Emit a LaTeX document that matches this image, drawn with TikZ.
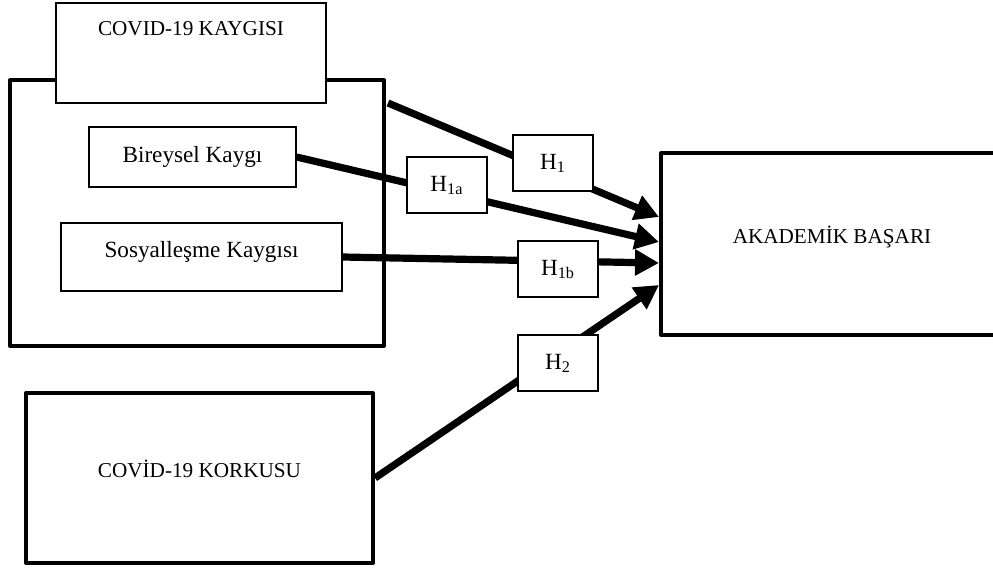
\documentclass[tikz,border=0pt]{standalone}
\usepackage{fontspec}
\setmainfont{Liberation Serif}
\usetikzlibrary{arrows.meta}
\begin{document}
\begin{tikzpicture}[x=.5pt, y=-.5pt,
    kalin/.style={draw, line width=2pt, line join=round, fill=white, inner sep=0pt},
    ince/.style={draw, line width=.6pt, fill=white, inner sep=0pt},
    buyuk/.style={font=\fontsize{10.6}{12}\selectfont},
    kucuk/.style={font=\fontsize{11.6}{13}\selectfont},
    hip/.style={ince, kucuk, minimum width=40pt, minimum height=28pt, text height=8pt, text depth=2pt},
    ok/.style={line width=3.6pt, -{Triangle[length=12pt, width=12.5pt]}}]
\useasboundingbox (0,0) rectangle (993,569);

\node (cerceve) at (197,213)[kalin, minimum width=187pt, minimum height=133pt]{};
\node (baslik) at (191,53)[ince, buyuk, minimum width=135pt, minimum height=50pt, text height=7pt, text depth=25pt]{COVID-19 KAYGISI};
\node (bireysel) at (192.5,157)[ince, kucuk, minimum width=103.5pt, minimum height=30pt]{Bireysel Kaygı};
\node (sosyal) at (201.5,257)[ince, kucuk, minimum width=140.5pt, minimum height=34pt, text height=7pt, text depth=7pt]{Sosyalleşme Kaygısı};
\node (korku) at (199.5,478)[kalin, buyuk, minimum width=173.5pt, minimum height=85pt, text height=5pt, text depth=6pt]{COVİD-19 KORKUSU};
\node (akademik) at (832,244)[kalin, buyuk, minimum width=171pt, minimum height=91pt, text height=5pt, text depth=6pt]{AKADEMİK BAŞARI};

\coordinate (h1bas) at (388,103);
\coordinate (u1) at (659,217);
\coordinate (u1a) at (659,242);
\coordinate (u1b) at (659,263);
\coordinate (u2) at (659,285);

\draw[ok](h1bas)--(u1);
\draw[ok](bireysel.east)--(u1a);
\draw[ok](sosyal.east)--(u1b);
\draw[ok](korku.east)--(u2);

\node (h1) at (553,163)[hip]{H\textsubscript{1}};
\node (h1a) at (447,185)[hip]{H\textsubscript{1a}};
\node (h1b) at (558,269)[hip]{H\textsubscript{1b}};
\node (h2) at (558,363)[hip]{H\textsubscript{2}};
\end{tikzpicture}
\end{document}
